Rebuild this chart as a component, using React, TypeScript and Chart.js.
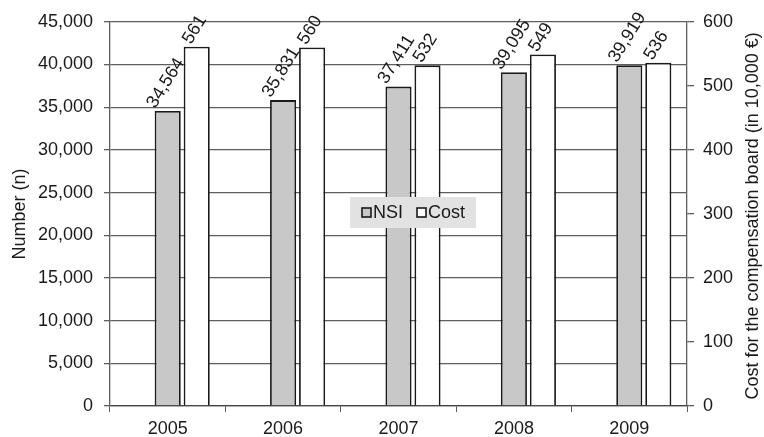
import React, { useEffect, useRef } from "react";
import { Chart, registerables } from "chart.js";

Chart.register(...registerables);

const categories = ["2005", "2006", "2007", "2008", "2009"];
const nsiValues = [34564, 35831, 37411, 39095, 39919];
const costValues = [561, 560, 532, 549, 536];
const spacerValues = [null, null, null, null, null];
const leftAxisTitle = "Number (n)";
const rightAxisTitle = "Cost for the compensation board (in 10,000 €)";
const legendLabels = ["NSI", "Cost"];

const FONT = "'Liberation Sans', Arial, sans-serif";
const TEXT = "#1a1a1a";
const GRID = "#5e5e5e";
const NSI_FILL = "#c8c8c8";
const COST_FILL = "#ffffff";
const BAR_BORDER = "#1a1a1a";

const fmt = (v: number) => v.toLocaleString("en-US");

const overlayPlugin = {
  id: "overlay",
  afterDatasetsDraw(chart: any) {
    const ctx = chart.ctx;
    const angle = (58 * Math.PI) / 180;
    ctx.save();
    ctx.font = `18px ${FONT}`;
    ctx.fillStyle = TEXT;
    chart.data.datasets.forEach((ds: any, di: number) => {
      if (ds.spacer) return;
      const meta = chart.getDatasetMeta(di);
      meta.data.forEach((bar: any, i: number) => {
        const txt = fmt(ds.data[i]);
        const L = ctx.measureText(txt).width;
        const h = 13;
        const cx = bar.x - 2;
        const top = bar.y;
        const py = top - 1 - (L / 2) * Math.sin(angle) - (h / 2) * Math.cos(angle);
        ctx.save();
        ctx.translate(cx, py);
        ctx.rotate(-angle);
        ctx.textAlign = "center";
        ctx.textBaseline = "middle";
        ctx.fillText(txt, 0, 0);
        ctx.restore();
      });
    });
    ctx.restore();
  },
  afterDraw(chart: any) {
    const ctx = chart.ctx;
    ctx.save();
    const area = chart.chartArea;
    ctx.font = `18px ${FONT}`;
    ctx.fillStyle = TEXT;
    ctx.translate(753, (area.top + area.bottom) / 2 + 2);
    ctx.rotate(-Math.PI / 2);
    ctx.textAlign = "center";
    ctx.textBaseline = "middle";
    ctx.fillText(rightAxisTitle, 0, 0);
    ctx.restore();

    ctx.save();
    const lx = 350, ly = 197, lw = 126, lh = 31;
    ctx.fillStyle = "#e2e2e2";
    ctx.fillRect(lx, ly, lw, lh);
    ctx.font = `18px ${FONT}`;
    ctx.textBaseline = "middle";
    ctx.textAlign = "left";
    const fills = [NSI_FILL, COST_FILL];
    let x = lx + 12;
    const cy = ly + lh / 2;
    legendLabels.forEach((lab, i) => {
      ctx.fillStyle = fills[i];
      ctx.fillRect(x, cy - 4.5, 9, 9);
      ctx.strokeStyle = BAR_BORDER;
      ctx.lineWidth = 1.6;
      ctx.strokeRect(x, cy - 4.5, 9, 9);
      ctx.fillStyle = TEXT;
      ctx.fillText(lab, x + 11, cy + 1);
      x += 11 + ctx.measureText(lab).width + 14;
    });
    ctx.restore();
  },
};

export default function App() {
  const ref = useRef<HTMLCanvasElement | null>(null);
  useEffect(() => {
    document.body.style.margin = "0";
    const canvas = ref.current!;
    const common = {
      borderColor: BAR_BORDER,
      borderWidth: 1.8,
      categoryPercentage: 0.754,
      barPercentage: 0.9,
    };
    const chart = new Chart(canvas, {
      type: "bar",
      data: {
        labels: categories,
        datasets: [
          {
            label: "",
            spacer: true,
            data: spacerValues,
            yAxisID: "y",
            backgroundColor: "rgba(0,0,0,0)",
            ...common,
            borderWidth: 0,
          } as any,
          {
            label: legendLabels[0],
            data: nsiValues,
            yAxisID: "y",
            backgroundColor: NSI_FILL,
            ...common,
          },
          {
            label: legendLabels[1],
            data: costValues,
            yAxisID: "y1",
            backgroundColor: COST_FILL,
            ...common,
          },
        ],
      },
      options: {
        responsive: false,
        animation: false,
        layout: { padding: { top: 20, left: 0, right: 0, bottom: 0 } },
        plugins: {
          legend: { display: false },
          tooltip: { enabled: false },
        },
        scales: {
          x: {
            grid: {
              drawOnChartArea: false,
              tickLength: 6,
              color: GRID,
              offset: true,
            },
            border: { color: "#444", width: 1.3 },
            ticks: {
              font: { family: FONT, size: 18 },
              color: TEXT,
              padding: 6,
              maxRotation: 0,
            },
            afterFit(scale: any) {
              scale.height = 31;
            },
          },
          y: {
            position: "left",
            min: 0,
            max: 45000,
            ticks: {
              stepSize: 5000,
              font: { family: FONT, size: 18 },
              color: TEXT,
              padding: 11,
              callback: (v: any) => fmt(Number(v)),
            },
            grid: { color: GRID, tickLength: 6, lineWidth: 1.3 },
            border: { color: GRID, width: 1.3 },
            title: {
              display: true,
              text: leftAxisTitle,
              font: { family: FONT, size: 18 },
              color: TEXT,
              padding: { top: 9, bottom: 0 },
            },
            afterFit(scale: any) {
              scale.width = 110;
            },
          },
          y1: {
            position: "right",
            min: 0,
            max: 600,
            ticks: {
              stepSize: 100,
              font: { family: FONT, size: 18 },
              color: TEXT,
              padding: 9,
            },
            grid: { drawOnChartArea: false, color: GRID, tickLength: 7, lineWidth: 1.3 },
            border: { color: GRID, width: 1.3 },
            afterFit(scale: any) {
              scale.width = 77;
            },
          },
        },
      },
      plugins: [overlayPlugin],
    });
    return () => chart.destroy();
  }, []);
  return (
    <div style={{ width: 764, height: 437 }}>
      <canvas ref={ref} width={764} height={437} style={{ display: "block", width: 764, height: 437 }} />
    </div>
  );
}
